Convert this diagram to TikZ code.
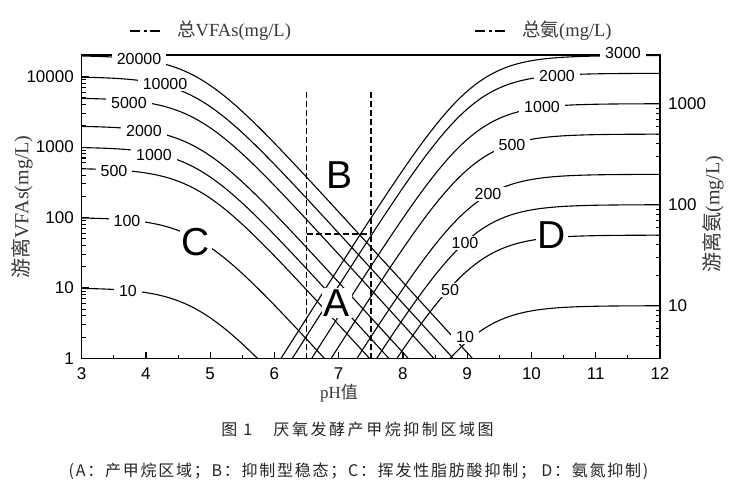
\documentclass[tikz,border=0pt]{standalone}
\usepackage{fontspec}
\setmainfont{Liberation Sans}
\newfontfamily\cjk{Noto Sans CJK SC}
\newfontfamily\cjkA{Noto Sans CJK SC}[LetterSpace=16]
\newfontfamily\cjkB{Noto Sans CJK SC}[LetterSpace=11]
\newfontfamily\lser{Liberation Serif}
\tikzset{
  declare function={
    xp(\a)=81.7+(\a-3)*64.25;
    lsp(\a)=max(\a,0)+log10(1+pow(10,-min(abs(\a),3.5)));
    yv(\a,\b)=358.3-70.4*(\a-lsp(\b-4.78));
    ya(\a,\b)=406.7-101*(\a-lsp(9.1-\b));
  },
  cline/.style={line width=1.1pt, line join=round},
  clab/.style={fill=white, inner xsep=5pt, inner ysep=1pt, font=\fontsize{16}{17}\selectfont},
  bigl/.style={fill=white, inner sep=2pt, font=\fontsize{39}{40}\selectfont},
  tlab/.style={inner sep=0pt, font=\fontsize{17}{18}\selectfont},
  axlab/.style={text=black!78, inner sep=0pt, font=\fontsize{20}{22}\selectfont},
  caplab/.style={text=black!85, inner sep=0pt},
  plotframe/.style={line width=1.3pt},
  tickl/.style={line width=1.1pt},
  guide/.style={line width=1.7pt, dash pattern=on 6pt off 3pt},
  legl/.style={line width=2pt},
}
\begin{document}
\begin{tikzpicture}[x=1pt,y=-1pt]
\useasboundingbox[fill=white] (0,0) rectangle (731,496);
% contour curves (log10 of total concentration)
\begin{scope}
\clip (81.7,55) rectangle (659.95,358.3);
\foreach \L in {1,2,2.69897,3,3.30103,3.69897,4,4.30103}
  \draw[cline] plot[domain=3:9.6,samples=170] ({xp(\x)},{yv(\L,\x)});
\foreach \L in {1,1.69897,2,2.30103,2.69897,3,3.30103,3.47712}
  \draw[cline] plot[domain=5.8:12,samples=170] ({xp(\x)},{ya(\L,\x)});
\end{scope}
% dashed guide lines
\coordinate (g1t) at (306.6,91.7); \coordinate (g1b) at (306.6,358.3);
\coordinate (g2t) at (370.8,91.7); \coordinate (g2b) at (370.8,358.3);
\coordinate (h1) at (306.6,234); \coordinate (h2) at (370.8,234);
\draw[guide] (g1t) -- (g1b);
\draw[guide] (g2t) -- (g2b);
\draw[guide,line width=2pt] (h1) -- (h2);
% frame
\draw[plotframe] (81.7,55) rectangle (659.95,358.3);
% bottom ticks
\foreach \k in {4,...,11} \draw[tickl] ({xp(\k)},358.3) -- ++(0,-6);
\foreach \k in {3,...,11} \draw[tickl] ({xp(\k+0.5)},358.3) -- ++(0,-3.5);
% left ticks
\foreach \k in {1,...,4} \draw[tickl] (81.7,{358.3-70.4*\k}) -- ++(7,0);
\foreach \k in {0,...,3} \foreach \m in {2,...,9}
  \draw[tickl] (81.7,{358.3-70.4*(\k+log10(\m))}) -- ++(4,0);
% right ticks
\foreach \k in {1,2,3} \draw[tickl] (659.95,{406.7-101*\k}) -- ++(-7,0);
\foreach \m in {4,...,9} \draw[tickl] (659.95,{406.7-101*log10(\m)}) -- ++(-4,0);
\foreach \k in {1,2} \foreach \m in {2,...,9}
  \draw[tickl] (659.95,{406.7-101*(\k+log10(\m))}) -- ++(-4,0);
\draw[tickl] (659.95,{406.7-101*(3+log10(2))}) -- ++(-4,0);
% contour labels (VFA)
\node[clab] (v20000) at (139,59) {20000};
\node[clab] (v10000) at (165,84) {10000};
\node[clab] (v5000) at (129,103) {5000};
\node[clab] (v2000) at (144,131) {2000};
\node[clab] (v1000) at (154,155) {1000};
\node[clab] (v500) at (114,171) {500};
\node[clab] (v100) at (127,221) {100};
\node[clab] (v10) at (128,291) {10};
% contour labels (ammonia)
\node[clab] (n3000) at (623,53) {3000};
\node[clab] (n2000) at (557,76) {2000};
\node[clab] (n1000) at (542,107) {1000};
\node[clab] (n500) at (512,145) {500};
\node[clab] (n200) at (488,194) {200};
\node[clab] (n100) at (465,243) {100};
\node[clab] (n50) at (450,290) {50};
\node[clab] (n10) at (465,337) {10};
% region letters
\node[bigl] (rA) at (337,303) {A};
\node[bigl] (rB) at (340,175) {B};
\node[bigl] (rC) at (196,242) {C};
\node[bigl] (rD) at (552,235) {D};
% tick labels
\foreach \k in {3,...,12} \node[tlab] (bx\k) at ({xp(\k)},374) {\k};
\foreach \k/\t in {0/1,1/10,2/100,3/1000,4/10000}
  \node[tlab,anchor=east] (ly\k) at (74,{358.3-70.4*\k}) {\t};
\foreach \k/\t in {1/10,2/100,3/1000}
  \node[tlab,anchor=west] (ry\k) at (668,{406.7-101*\k}) {\t};
% axis titles
\node[axlab,rotate=90] (yl) at (22,207) {{\cjk 游离}{\lser VFAs(mg/L)}};
\node[axlab,rotate=90] (yr) at (713,214) {{\cjk 游离氨}{\lser (mg/L)}};
\node[axlab,font=\fontsize{17}{18}\selectfont] (xl) at (339,393) {{\lser pH}{\cjk 值}};
% legend
\coordinate (a1) at (130,30.5); \coordinate (a2) at (140,30.5);
\coordinate (a3) at (143.5,30.5); \coordinate (a4) at (146.5,30.5);
\coordinate (a5) at (150,30.5); \coordinate (a6) at (160,30.5);
\draw[legl] (a1) -- (a2) (a3) -- (a4) (a5) -- (a6);
\node[axlab,anchor=west,font=\fontsize{18.5}{20}\selectfont] (leg1) at (177,30.5) {{\cjk 总}{\lser VFAs(mg/L)}};
\coordinate (b1) at (475,30.5); \coordinate (b2) at (485,30.5);
\coordinate (b3) at (488.5,30.5); \coordinate (b4) at (491.5,30.5);
\coordinate (b5) at (495,30.5); \coordinate (b6) at (505,30.5);
\draw[legl] (b1) -- (b2) (b3) -- (b4) (b5) -- (b6);
\node[axlab,anchor=west,font=\fontsize{18.5}{20}\selectfont] (leg2) at (522,30.5) {{\cjk 总氨}{\lser (mg/L)}};
% captions
\node[caplab,font=\fontsize{16}{18}\selectfont\cjkA] (cap1) at (357.5,429) {图 1　厌氧发酵产甲烷抑制区域图};
\node[caplab,font=\fontsize{16}{18}\selectfont\cjkB] (cap2) at (358.5,471) {(A：产甲烷区域；B：抑制型稳态；C：挥发性脂肪酸抑制； D：氨氮抑制)};
\end{tikzpicture}
\end{document}
